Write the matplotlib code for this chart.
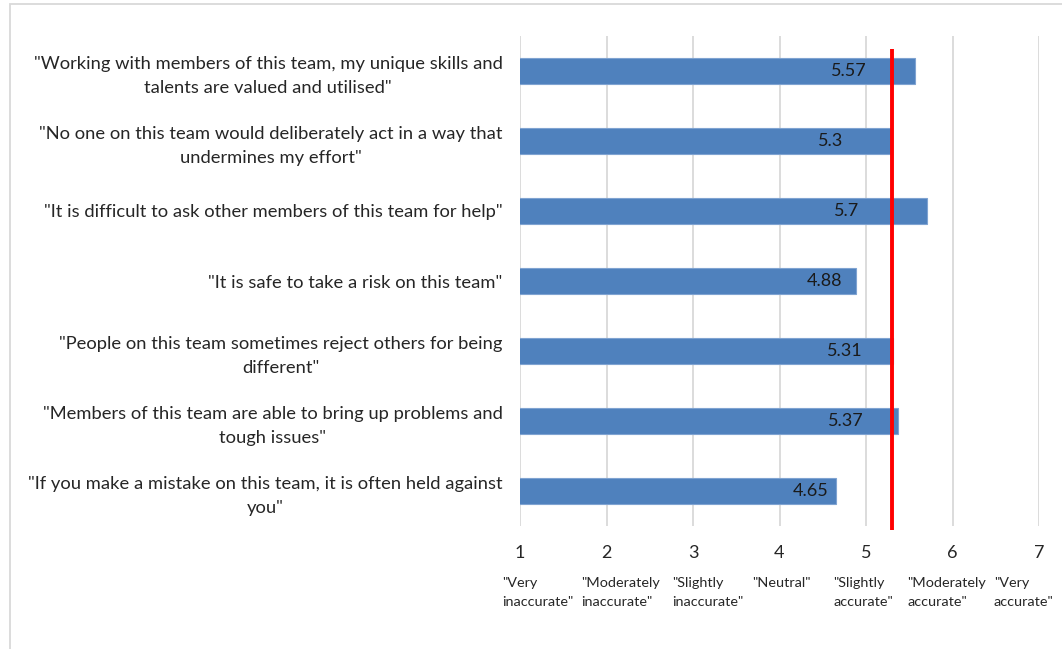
import matplotlib
matplotlib.use("Agg")
import matplotlib.pyplot as plt
from matplotlib.patches import Rectangle

plt.rcParams["font.family"] = ["Lato", "DejaVu Sans"]

statements = [
    '"Working with members of this team, my unique skills and\ntalents are valued and utilised"',
    '"No one on this team would deliberately act in a way that\nundermines my effort"',
    '"It is difficult to ask other members of this team for help"',
    '"It is safe to take a risk on this team"',
    '"People on this team sometimes reject others for being\ndifferent"',
    '"Members of this team are able to bring up problems and\ntough issues"',
    '"If you make a mistake on this team, it is often held against\nyou"',
]
scores = [5.57, 5.3, 5.7, 4.88, 5.31, 5.37, 4.65]
reference_score = 5.3
scale_ticks = [1, 2, 3, 4, 5, 6, 7]
scale_names = [
    '"Very\ninaccurate"',
    '"Moderately\ninaccurate"',
    '"Slightly\ninaccurate"',
    '"Neutral"',
    '"Slightly\naccurate"',
    '"Moderately\naccurate"',
    '"Very\naccurate"',
]

# gap (px) between bar end and right edge of its value label
label_gaps = [49, 49, 67, 13, 30, 34, 7]
# horizontal shift (px) of each scale description relative to its tick
name_shifts = [-18, -25, -21, -27, -33, -45, -45]

W, H = 1062, 649
fig = plt.figure(figsize=(W / 100, H / 100), dpi=100)
fig.patch.set_facecolor("white")

# outer chart border (left and top visible)
fig.patches.append(Rectangle((10 / W, -0.05), 1.2, 1.05 - 4 / H,
                             transform=fig.transFigure, fill=False,
                             edgecolor="#d9d9d9", lw=1.3))

ax = fig.add_axes([520 / W, 1 - 526 / H, (1039 - 520) / W, (526 - 36) / H])
ypos = list(range(len(statements)))

ax.barh(ypos, scores, left=0, height=0.37, color="#4f81bd",
        edgecolor="#7fa3d1", linewidth=0.8, zorder=3)
ax.set_xlim(1, 7)
ax.set_ylim(len(statements) - 0.5, -0.5)

ax.set_xticks(scale_ticks)
ax.set_xticklabels([str(t) for t in scale_ticks], fontsize=13, color="#262626")
ax.tick_params(axis="x", length=0, pad=14)
ax.set_yticks(ypos)
ax.set_yticklabels(statements, fontsize=13.2, color="#262626",
                   multialignment="center", linespacing=1.55)
ax.tick_params(axis="y", length=0, pad=12.5)

ax.grid(axis="x", color="#d9d9d9", lw=1.3, zorder=0)
ax.grid(axis="y", visible=False)
for s in ax.spines.values():
    s.set_visible(False)

for y, v, g in zip(ypos, scores, label_gaps):
    ax.annotate(f"{v:g}", xy=(v, y), xytext=(-g, 0),
                textcoords="offset pixels", ha="right", va="center",
                fontsize=13, color="#1a1a1a", zorder=5)

ax.plot([reference_score, reference_score], [-0.31, 6.55], color="#ff0000",
        lw=2.8, solid_capstyle="butt", clip_on=False, zorder=6)

# scale descriptions: each line placed on its own row below the tick numbers
for t, name, dx in zip(scale_ticks, scale_names, name_shifts):
    for k, line in enumerate(name.split("\n")):
        ax.annotate(line, xy=(t, 0), xycoords=("data", "axes fraction"),
                    xytext=(dx, -57 - 19.5 * k), textcoords="offset pixels",
                    ha="left", va="center", fontsize=10.4, color="#262626",
                    annotation_clip=False)

fig.savefig("out.png", dpi=100, facecolor="white")
